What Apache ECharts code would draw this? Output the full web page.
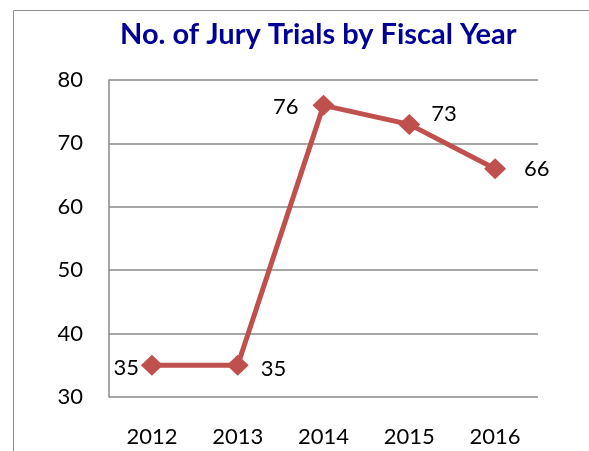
<!DOCTYPE html>
<html><head><meta charset="utf-8">
<script src="https://cdn.jsdelivr.net/npm/echarts@6/dist/echarts.min.js"></script>
<style>html,body{margin:0;padding:0;background:#fff}#c{width:589px;height:451px}</style>
</head><body><div id="c"></div>
<script>
const titleText = "No. of Jury Trials by Fiscal Year";
const categories = ["2012","2013","2014","2015","2016"];
const trials = [35, 35, 76, 73, 66];
const yTicks = {min:30, max:80, interval:10};

// label placement per point (style only)
const labelPlacement = [
  {position:'left',  distance:2,  offset:[0,3]},
  {position:'right', distance:12, offset:[0,4]},
  {position:'left',  distance:14, offset:[0,2]},
  {position:'right', distance:11, offset:[0,-10]},
  {position:'right', distance:18, offset:[0,0]}
];

const chart = echarts.init(document.getElementById('c'));
const font = 'Lato, "Liberation Sans", sans-serif';
chart.setOption({
  animation:false,
  graphic:[{type:'rect', shape:{x:13.5,y:10.5,width:620,height:500}, style:{fill:'none', stroke:'#8c8c8c', lineWidth:1}}],
  title:{text:titleText, left:115, top:15, textStyle:{fontFamily:font, fontWeight:'bold', fontSize:29, color:'#000099'}},
  grid:{left:109, right:51, top:80, bottom:54},
  xAxis:{type:'category', data:categories, boundaryGap:true,
    axisLine:{show:false}, axisTick:{show:false},
    axisLabel:{fontFamily:font, fontSize:22, color:'#000', margin:29}},
  yAxis:{type:'value', min:yTicks.min, max:yTicks.max, interval:yTicks.interval,
    axisLine:{show:true, lineStyle:{color:'#888', width:1.5}}, axisTick:{show:false},
    splitLine:{lineStyle:{color:'#888', width:1.5}},
    axisLabel:{fontFamily:font, fontSize:22, color:'#000', margin:26, align:'right'}},
  series:[{type:'line', data:trials.map((v,i)=>({value:v, label:labelPlacement[i]})),
    lineStyle:{color:'#C0504D', width:5}, itemStyle:{color:'#C0504D'},
    symbol:'diamond', symbolSize:[22,21],
    label:{show:true, fontFamily:font, fontSize:22, color:'#000'}}]
});
</script></body></html>
